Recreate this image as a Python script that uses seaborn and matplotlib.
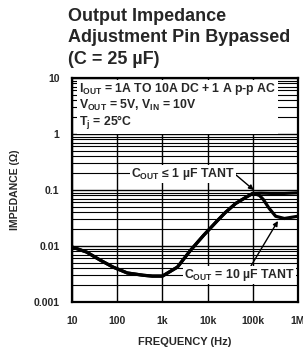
import numpy as np
import pandas as pd
import matplotlib
matplotlib.use("Agg")
import matplotlib.pyplot as plt
from matplotlib.ticker import LogLocator, FixedLocator, FixedFormatter, NullFormatter
import seaborn as sns

# ---- data ----
freq_common = [10, 21, 42, 81, 167, 380, 600, 1000, 2150, 4200, 8150, 16700, 25000, 41800, 69500, 100000]
imp_common = [0.0096, 0.0078, 0.0056, 0.0042, 0.0033, 0.0030, 0.0029, 0.0029, 0.0042, 0.0084,
              0.0155, 0.0287, 0.040, 0.0575, 0.0736, 0.087]
freq_1uf = [150000, 250000, 500000, 1000000]
imp_1uf = [0.088, 0.087, 0.087, 0.089]
freq_10uf = [110000, 140000, 170000, 230000, 320000, 500000, 1000000]
imp_10uf = [0.086, 0.080, 0.068, 0.047, 0.034, 0.031, 0.034]

x_ticks = [10, 100, 1000, 10000, 100000, 1000000]
x_tick_labels = ["10", "100", "1k", "10k", "100k", "1M"]
y_ticks = [0.001, 0.01, 0.1, 1, 10]
y_tick_labels = ["0.001", "0.01", "0.1", "1", "10"]

title_text = "Output Impedance\nAdjustment Pin Bypassed\n(C = 25 µF)"
cond_lines = [r"$\mathrm{I_{OUT}}$ = 1A TO 10A DC + 1 A p-p AC",
              r"$\mathrm{V_{OUT}}$ = 5V, $\mathrm{V_{IN}}$ = 10V",
              r"$\mathrm{T_{j}}$ = 25°C"]
label_1uf = r"$\mathrm{C_{OUT}}$ ≤ 1 µF TANT"
label_10uf = r"$\mathrm{C_{OUT}}$ = 10 µF TANT"

df = pd.concat([
    pd.DataFrame({"freq": freq_common + freq_1uf, "impedance": imp_common + imp_1uf, "series": "1uF"}),
    pd.DataFrame({"freq": freq_common + freq_10uf, "impedance": imp_common + imp_10uf, "series": "10uF"}),
])

sns.set_style("white")
FAM = ["Liberation Sans", "DejaVu Sans"]
plt.rcParams["font.family"] = FAM
plt.rcParams["mathtext.fontset"] = "custom"
plt.rcParams["mathtext.rm"] = "Liberation Sans:bold"
plt.rcParams["mathtext.it"] = "Liberation Sans:bold"
plt.rcParams["mathtext.bf"] = "Liberation Sans:bold"

fig = plt.figure(figsize=(3.03, 3.55), dpi=100)
ax = fig.add_axes([72 / 303, 1 - 302 / 355, 226 / 303, 224 / 355])

sns.lineplot(data=df, x="freq", y="impedance", hue="series", palette=["black", "black"],
             legend=False, linewidth=2.3, estimator=None, sort=True, ax=ax, zorder=5)

ax.set_xscale("log")
ax.set_yscale("log")
ax.set_xlim(10, 1e6)
ax.set_ylim(1e-3, 10)

ax.xaxis.set_major_locator(FixedLocator(x_ticks))
ax.xaxis.set_major_formatter(FixedFormatter(x_tick_labels))
ax.xaxis.set_minor_locator(FixedLocator([]))
ax.yaxis.set_major_locator(FixedLocator(y_ticks))
ax.yaxis.set_major_formatter(FixedFormatter(y_tick_labels))
ax.yaxis.set_minor_locator(LogLocator(base=10, subs=np.arange(2, 10)))
ax.yaxis.set_minor_formatter(NullFormatter())

ax.grid(which="major", axis="both", color="black", linewidth=1.0, zorder=1)
ax.grid(which="minor", axis="y", color="black", linewidth=0.8, zorder=1)
ax.set_axisbelow(True)
for s in ax.spines.values():
    s.set_color("black")
    s.set_linewidth(1.6)

ax.tick_params(axis="both", which="both", length=0)
ax.tick_params(axis="x", pad=10)
ax.tick_params(axis="y", pad=9)
for lab in ax.get_xticklabels() + ax.get_yticklabels():
    lab.set_fontweight("bold")
    lab.set_fontsize(7.5)
    lab.set_clip_on(False)

ax.set_xlabel("FREQUENCY (Hz)", fontsize=8, fontweight="bold", labelpad=8)
ax.set_ylabel("IMPEDANCE (Ω)", fontsize=7.5, fontweight="bold", labelpad=10)

# title
fig.text(68 / 303, 1 - 8 / 355, title_text, ha="left", va="top", fontsize=13,
         fontweight="bold", linespacing=1.34)

# condition box
ax.text(0.03, 0.985, "\n".join(cond_lines), transform=ax.transAxes, ha="left", va="top",
        fontsize=8.8, fontweight="bold", linespacing=1.05, zorder=6,
        bbox=dict(facecolor="white", edgecolor="none", pad=1.5))

# curve labels
ax.annotate(label_1uf, xy=(1.05e5, 0.1), xytext=(2800, 0.196), ha="center", va="center",
            fontsize=8.8, fontweight="bold", zorder=7,
            bbox=dict(facecolor="white", edgecolor="none", pad=0.8),
            arrowprops=dict(arrowstyle="-|>", color="black", lw=1.0, relpos=(1.0, 0.5),
                            shrinkA=0, shrinkB=0, mutation_scale=7))
ax.annotate(label_10uf, xy=(3.6e5, 0.028), xytext=(2950, 0.0030), ha="left", va="center",
            fontsize=8.8, fontweight="bold", zorder=7, annotation_clip=False,
            bbox=dict(facecolor="white", edgecolor="none", pad=0.8),
            arrowprops=dict(arrowstyle="-|>", color="black", lw=1.0, relpos=(0.6, 1.0),
                            shrinkA=0, shrinkB=0, mutation_scale=7))

fig.savefig("out.png", dpi=100)
